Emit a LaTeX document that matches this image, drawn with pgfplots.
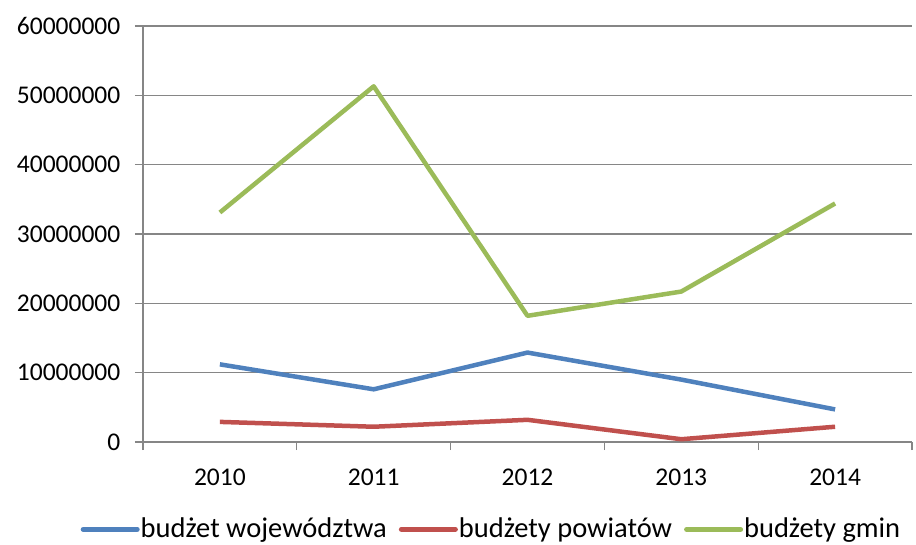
\documentclass[border=0pt]{standalone}
\usepackage{fontspec}
\setmainfont{Carlito}
\usepackage{pgfplots}
\pgfplotsset{compat=1.18}
\definecolor{cBlue}{HTML}{4F81BD}
\definecolor{cRed}{HTML}{C0504D}
\definecolor{cGreen}{HTML}{9BBB59}
\definecolor{gridgray}{HTML}{868686}
\newcommand{\chartfont}{\fontsize{25.5bp}{30bp}\selectfont}
\newcommand{\legfont}{\fontsize{28.5bp}{33bp}\selectfont}
\begin{document}
\chartfont
\begin{tikzpicture}
\useasboundingbox (0,0) rectangle (916bp,545bp);
\begin{axis}[
  at={(143bp,103bp)}, anchor=south west,
  scale only axis, width=769bp, height=416bp,
  xmin=-0.5, xmax=4.5, ymin=0, ymax=60000000,
  axis x line=bottom, axis y line=left,
  axis line style={-, draw=gridgray, line width=1.3bp},
  xtick={0,1,2,3,4}, xticklabels={2010,2011,2012,2013,2014},
  minor xtick={-0.5,0.5,1.5,2.5,3.5,4.5},
  ytick={0,10000000,20000000,30000000,40000000,50000000,60000000},
  yticklabels={0,10000000,20000000,30000000,40000000,50000000,60000000},
  scaled y ticks=false,
  tick align=outside,
  major tick length=8bp, minor tick length=8bp,
  major x tick style={draw=none},
  minor x tick style={draw=gridgray, line width=1.3bp},
  ytick style={draw=gridgray, line width=1.3bp},
  ymajorgrids, grid style={draw=gridgray, line width=1.3bp},
  tick label style={font=\chartfont, text=black},
  yticklabel style={xshift=-6bp},
  xticklabel style={yshift=-10bp},
  /pgf/number format/assume math mode=true,
  legend style={at={(rel axis cs:0.4525,-0.21)}, anchor=center, draw=none, fill=none,
    font=\legfont, legend columns=3,
    /tikz/every even column/.append style={column sep=11bp},
    inner xsep=0pt, nodes={inner xsep=1bp}},
  legend image code/.code={\draw[#1, line width=5bp, line cap=round] (0,0) -- (54bp,0);},
  every axis plot/.append style={line width=4.5bp, line join=round, no marks},
]
\addplot[cBlue] coordinates {(0,11200000) (1,7600000) (2,12900000) (3,9000000) (4,4700000)};
\addlegendentry{budżet województwa}
\addplot[cRed] coordinates {(0,2900000) (1,2200000) (2,3200000) (3,400000) (4,2200000)};
\addlegendentry{budżety powiatów}
\addplot[cGreen] coordinates {(0,33100000) (1,51300000) (2,18200000) (3,21700000) (4,34400000)};
\addlegendentry{budżety gmin}
\end{axis}
\end{tikzpicture}
\end{document}
